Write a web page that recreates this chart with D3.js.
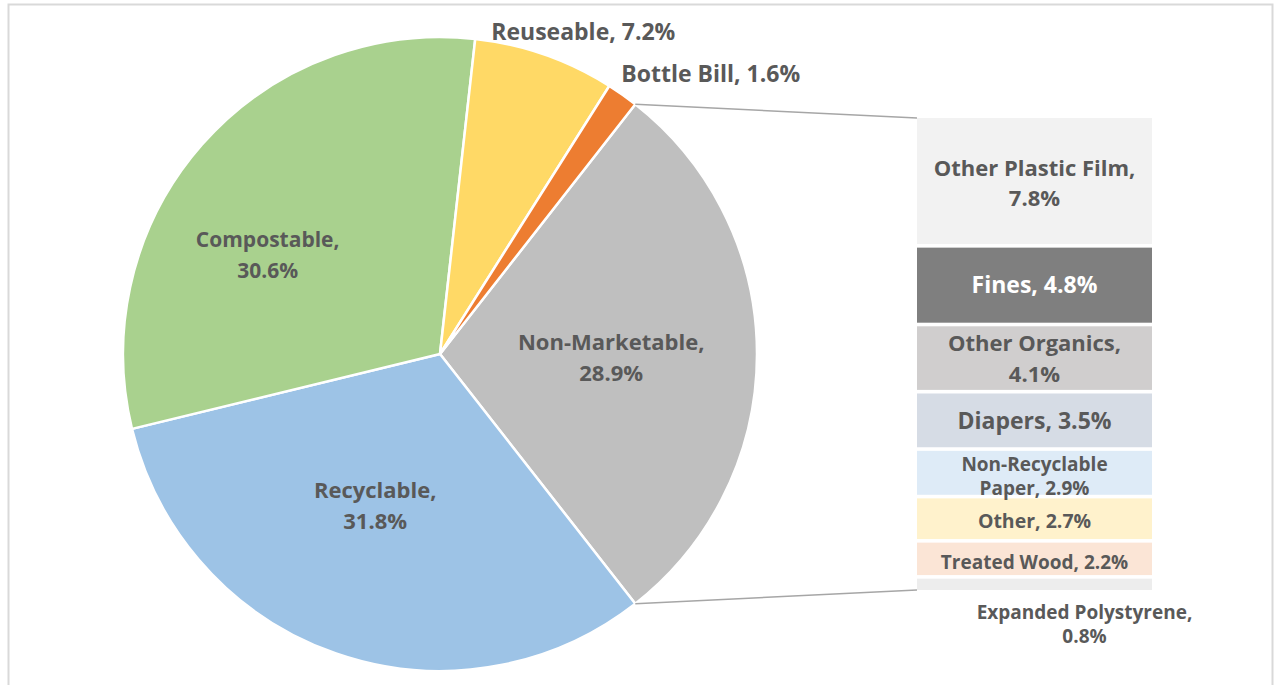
<!DOCTYPE html>
<html><head><meta charset="utf-8">
<script src="https://cdn.jsdelivr.net/npm/d3@7"></script>
<style>body{margin:0;background:#fff;overflow:hidden}</style>
</head><body><svg id="c" width="1277" height="685"></svg>
<script>
// ---- data ----
const pieCategories = ["Non-Marketable", "Recyclable", "Compostable", "Reuseable", "Bottle Bill"];
const pieValues = [28.9, 31.8, 30.6, 7.2, 1.6];
const pieColors = ["#bfbfbf", "#9dc3e6", "#a9d18e", "#ffd966", "#ed7d31"];
const barCategories = ["Other Plastic Film", "Fines", "Other Organics", "Diapers", "Non-Recyclable Paper", "Other", "Treated Wood", "Expanded Polystyrene"];
const barValues = [7.8, 4.8, 4.1, 3.5, 2.9, 2.7, 2.2, 0.8];
const barColors = ["#f2f2f2", "#7f7f7f", "#d0cece", "#d6dce5", "#deebf7", "#fff2cc", "#fbe5d6", "#ededed"];

// ---- layout ----
const FONT = "'Open Sans',sans-serif";
const TXT = "#595959";
const svg = d3.select("#c");
const cx = 440, cy = 354, R = 317;
const barX0 = 917, barX1 = 1152, barY0 = 118, barY1 = 590;

// frame
svg.append("rect").attr("x", 8.5).attr("y", 4.5).attr("width", 1264).attr("height", 700)
  .attr("fill", "#fff").attr("stroke", "#d9d9d9").attr("stroke-width", 2);

// pie
const total = d3.sum(pieValues);
const splitAngle = pieValues[0] / total * 2 * Math.PI;
const start = Math.PI / 2 - splitAngle / 2;
const pie = d3.pie().sort(null).value(d => d).startAngle(start).endAngle(start + 2 * Math.PI);
const arcs = pie(pieValues);
const arc = d3.arc().innerRadius(0).outerRadius(R);
const g = svg.append("g").attr("transform", `translate(${cx},${cy})`);
g.selectAll("path").data(arcs).join("path")
  .attr("d", arc).attr("fill", (d, i) => pieColors[i])
  .attr("stroke", "#fff").attr("stroke-width", 2.5).attr("stroke-linejoin", "round");

// connectors
const a0 = arcs[0].startAngle, a1 = arcs[0].endAngle;
const y = d3.scaleLinear().domain([0, d3.sum(barValues)]).range([barY0, barY1]);
[[a0, barY0], [a1, barY1]].forEach(([a, by]) => {
  svg.append("line")
    .attr("x1", cx + R * Math.sin(a)).attr("y1", cy - R * Math.cos(a))
    .attr("x2", barX0).attr("y2", by)
    .attr("stroke", "#a6a6a6").attr("stroke-width", 1.5);
});

// pie labels
const inside = [
  { i: 0, r: 0.54, da: 0, size: 22, dy: 0 },
  { i: 1, r: 0.52, da: 0.07, size: 22, dy: -4 },
  { i: 2, r: 0.62, da: -0.22, size: 21, dy: -8 },
];
inside.forEach(o => {
  const d = arcs[o.i];
  const m = (d.startAngle + d.endAngle) / 2 + o.da;
  const x = cx + R * o.r * Math.sin(m), yy = cy - R * o.r * Math.cos(m) + o.dy;
  const t = svg.append("text").attr("x", x).attr("y", yy).attr("text-anchor", "middle")
    .attr("font-family", FONT).attr("font-weight", "bold").attr("font-size", o.size).attr("fill", TXT);
  t.append("tspan").attr("x", x).attr("dy", -4).text(pieCategories[o.i] + ",");
  t.append("tspan").attr("x", x).attr("dy", 31).text(pieValues[o.i].toFixed(1) + "%");
});
const outside = [
  { i: 3, r: 1.07, dx: -61, dy: 6 },
  { i: 4, r: 1.13, dx: -25, dy: 21 },
];
outside.forEach(o => {
  const d = arcs[o.i];
  const m = (d.startAngle + d.endAngle) / 2;
  const x = cx + R * o.r * Math.sin(m) + o.dx, yy = cy - R * o.r * Math.cos(m) + o.dy;
  svg.append("text").attr("x", x).attr("y", yy).attr("text-anchor", "start")
    .attr("font-family", FONT).attr("font-weight", "bold").attr("font-size", 23).attr("fill", TXT)
    .text(pieCategories[o.i] + ", " + pieValues[o.i].toFixed(1) + "%");
});

// bar of pie
const stack = [];
let acc = 0;
barValues.forEach((v, i) => { stack.push({ i, v, y0: acc, y1: acc + v }); acc += v; });
const gap = 1.8;
svg.append("g").selectAll("rect").data(stack).join("rect")
  .attr("x", barX0).attr("width", barX1 - barX0)
  .attr("y", d => y(d.y0) + (d.i === 0 ? 0 : gap))
  .attr("height", d => y(d.y1) - y(d.y0) - (d.i === 0 ? gap : 2 * gap) + (d.i === stack.length - 1 ? gap : 0))
  .attr("fill", d => barColors[d.i]);

// bar labels: line splits and sizes
const barLines = [
  [barCategories[0] + ",", barValues[0].toFixed(1) + "%"],
  [barCategories[1] + ", " + barValues[1].toFixed(1) + "%"],
  [barCategories[2] + ",", barValues[2].toFixed(1) + "%"],
  [barCategories[3] + ", " + barValues[3].toFixed(1) + "%"],
  ["Non-Recyclable", "Paper, " + barValues[4].toFixed(1) + "%"],
  [barCategories[5] + ", " + barValues[5].toFixed(1) + "%"],
  [barCategories[6] + ", " + barValues[6].toFixed(1) + "%"],
  [barCategories[7] + ",", barValues[7].toFixed(1) + "%"],
];
const barSizes = [22, 23, 22, 23, 19, 19.5, 19, 19];
const lineH = [30, 0, 31, 0, 24, 0, 0, 24];
const barDy = [1, 0, 0, 0, 3, 2, 3, 0];
const bcx = (barX0 + barX1) / 2;
stack.forEach(d => {
  const lines = barLines[d.i];
  const isLast = d.i === stack.length - 1;
  const x = isLast ? bcx + 50 : bcx;
  const mid = (isLast ? y(d.y1) + 34 : (y(d.y0) + y(d.y1)) / 2) + barDy[d.i];
  const lh = lineH[d.i];
  const t = svg.append("text").attr("text-anchor", "middle")
    .attr("font-family", FONT).attr("font-weight", "bold").attr("font-size", barSizes[d.i])
    .attr("fill", d.i === 1 ? "#fff" : TXT);
  lines.forEach((l, k) => {
    t.append("tspan").attr("x", x)
      .attr("y", mid + barSizes[d.i] * 0.36 + (k - (lines.length - 1) / 2) * lh)
      .text(l);
  });
});
</script></body></html>
